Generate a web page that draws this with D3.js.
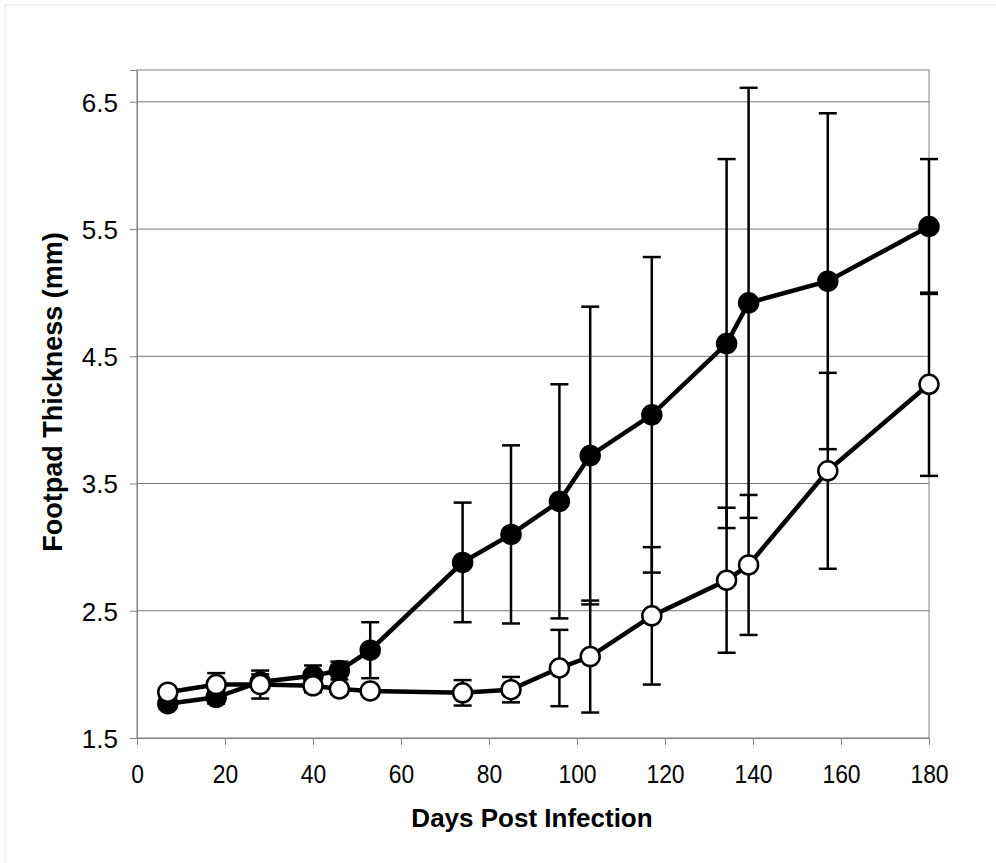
<!DOCTYPE html>
<html>
<head>
<meta charset="utf-8">
<script src="https://cdn.jsdelivr.net/npm/d3@7"></script>
<style>
  body { margin: 0; background: #fff; }
  svg { display: block; font-family: "Liberation Sans", Arial, sans-serif; }
</style>
</head>
<body>
<div id="chart"></div>
<script>
const days = [7, 18, 28, 40, 46, 53, 74, 85, 96, 103, 117, 134, 139, 157, 180]
const filledMean = [1.77, 1.82, 1.94, 1.99, 2.03, 2.19, 2.88, 3.10, 3.36, 3.72, 4.04, 4.60, 4.92, 5.09, 5.52]
const filledErr = [0.03, 0.05, 0.06, 0.08, 0.07, 0.22, 0.47, 0.70, 0.92, 1.17, 1.24, 1.45, 1.69, 1.32, 0.53]
const openMean = [1.86, 1.92, 1.92, 1.91, 1.885, 1.87, 1.855, 1.88, 2.05, 2.14, 2.46, 2.74, 2.86, 3.60, 4.28]
const openErr = [0.03, 0.09, 0.11, 0.05, 0.04, 0.04, 0.10, 0.10, 0.30, 0.44, 0.54, 0.57, 0.55, 0.77, 0.72]
const xTicks = [0, 20, 40, 60, 80, 100, 120, 140, 160, 180]
const yTicks = [1.5, 2.5, 3.5, 4.5, 5.5, 6.5]

const W = 996, H = 863
const MARGIN = { TOP: 70, LEFT: 137, RIGHT: 67, BOTTOM: 125 }
const WIDTH = W - MARGIN.LEFT - MARGIN.RIGHT
const HEIGHT = H - MARGIN.TOP - MARGIN.BOTTOM

const svg = d3.select("#chart").append("svg")
  .attr("width", W)
  .attr("height", H)

// faint outer frame
svg.append("rect")
  .attr("x", 5).attr("y", 5)
  .attr("width", W).attr("height", H)
  .attr("fill", "none")
  .attr("stroke", "#e6e6e6")

const g = svg.append("g")
  .attr("transform", `translate(${MARGIN.LEFT}, ${MARGIN.TOP})`)

const x = d3.scaleLinear().domain([0, 180]).range([0, WIDTH])
const y = d3.scaleLinear().domain([1.5, 6.75]).range([HEIGHT, 0])

// gridlines
g.append("g")
  .selectAll("line")
  .data(yTicks.slice(1))
  .join("line")
  .attr("x1", 0).attr("x2", WIDTH)
  .attr("y1", d => y(d)).attr("y2", d => y(d))
  .attr("stroke", "#777")
  .attr("stroke-width", 1)

// plot frame
g.append("rect")
  .attr("width", WIDTH).attr("height", HEIGHT)
  .attr("fill", "none")
  .attr("stroke", "#808080")
  .attr("stroke-width", 1)

const xAxis = g.append("g")
  .attr("transform", `translate(0, ${HEIGHT})`)
  .call(d3.axisBottom(x).tickValues(xTicks).tickSize(7).tickPadding(20))
const yAxis = g.append("g")
  .call(d3.axisLeft(y).tickValues(yTicks).tickFormat(d3.format(".1f")).tickSize(7).tickPadding(12))

;[xAxis, yAxis].forEach(a => {
  a.select(".domain").attr("stroke", "#808080")
  a.selectAll(".tick line").attr("stroke", "#808080")
  a.selectAll(".tick text")
    .attr("font-size", 26)
    .attr("fill", "#000")
})
yAxis.selectAll(".tick text").attr("dy", "0.36em")
// x labels in the original are a little condensed
xAxis.selectAll(".tick text")
  .attr("transform", function () { return `translate(0,0) scale(0.88,1)` })
xAxis.selectAll(".tick").each(function (d) {
  d3.select(this).select("text").attr("x", 0)
})

// axis titles
svg.append("text")
  .attr("x", 532)
  .attr("y", 827)
  .attr("text-anchor", "middle")
  .attr("font-size", 26)
  .attr("font-weight", "bold")
  .text("Days Post Infection")

svg.append("text")
  .attr("transform", `translate(62, 392) rotate(-90)`)
  .attr("text-anchor", "middle")
  .attr("font-size", 27)
  .attr("font-weight", "bold")
  .text("Footpad Thickness (mm)")

const line = d3.line()
  .x(d => x(d.day))
  .y(d => y(d.v))

const series = [
  { name: "filled", mean: filledMean, err: filledErr, fill: "#000" },
  { name: "open", mean: openMean, err: openErr, fill: "#fff" }
]

const CAP = 9

// error bars first, then lines and markers on top
series.forEach(s => {
  const pts = days.map((day, i) => ({ day, v: s.mean[i], e: s.err[i] }))
  const eb = g.append("g").attr("stroke", "#000").attr("stroke-width", 2.5)
  eb.selectAll(".bar").data(pts).join("line")
    .attr("x1", d => x(d.day)).attr("x2", d => x(d.day))
    .attr("y1", d => y(d.v + d.e)).attr("y2", d => y(d.v - d.e))
  eb.selectAll(".top").data(pts).join("line")
    .attr("x1", d => x(d.day) - CAP).attr("x2", d => x(d.day) + CAP)
    .attr("y1", d => y(d.v + d.e)).attr("y2", d => y(d.v + d.e))
  eb.selectAll(".bottom").data(pts).join("line")
    .attr("x1", d => x(d.day) - CAP).attr("x2", d => x(d.day) + CAP)
    .attr("y1", d => y(d.v - d.e)).attr("y2", d => y(d.v - d.e))
})

series.forEach(s => {
  const pts = days.map((day, i) => ({ day, v: s.mean[i] }))
  g.append("path")
    .datum(pts)
    .attr("d", line)
    .attr("fill", "none")
    .attr("stroke", "#000")
    .attr("stroke-width", 4.5)
  g.append("g").selectAll("circle")
    .data(pts)
    .join("circle")
    .attr("cx", d => x(d.day))
    .attr("cy", d => y(d.v))
    .attr("r", 9.5)
    .attr("fill", s.fill)
    .attr("stroke", "#000")
    .attr("stroke-width", 2.5)
})
</script>
</body>
</html>
